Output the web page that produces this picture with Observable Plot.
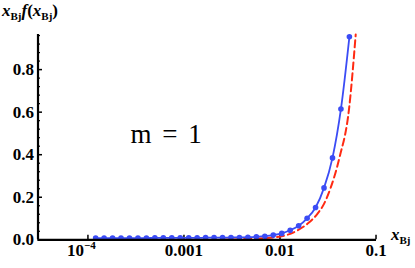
<!DOCTYPE html>
<html><head><meta charset="utf-8">
<script src="https://cdn.jsdelivr.net/npm/d3@7"></script>
<script src="https://cdn.jsdelivr.net/npm/@observablehq/plot@0.6"></script>
<style>body{margin:0;background:#fff;} svg{display:block}</style>
</head><body><div id="chart"></div>
<script>
// ---- data ----
const blueX = [1.203e-4,1.473e-4,1.805e-4,2.211e-4,2.708e-4,3.317e-4,4.063e-4,4.976e-4,6.095e-4,7.465e-4,
  9.144e-4,1.120e-3,1.372e-3,1.680e-3,2.058e-3,2.521e-3,3.088e-3,3.782e-3,4.632e-3,5.674e-3,
  6.950e-3,8.512e-3,1.043e-2,1.277e-2,1.564e-2,1.916e-2,2.347e-2,2.874e-2,3.521e-2,4.312e-2,5.282e-2];
const blueY = [0.008,0.008,0.008,0.008,0.008,0.008,0.008,0.009,0.009,0.009,
  0.009,0.009,0.009,0.010,0.010,0.010,0.011,0.011,0.012,0.014,
  0.017,0.022,0.030,0.045,0.066,0.101,0.152,0.244,0.385,0.615,0.954];
const redX = [0.0025,0.0035,0.00458,0.00681,0.01194,0.01518,0.01929,0.02452,0.02873,0.03374,0.04156,0.05232,0.06144];
const redY = [0.0,0.002,0.004,0.0075,0.0235,0.0437,0.0751,0.122,0.169,0.245,0.385,0.614,0.965];
const xTicks = [1e-4, 1e-3, 1e-2, 1e-1];
const xTickLabels = ["10", "0.001", "0.01", "0.1"];
const xTickExps = ["\u22124", "", "", ""];
const yTicks = [0, 0.2, 0.4, 0.6, 0.8];
const yTickLabels = ["0.0", "0.2", "0.4", "0.6", "0.8"];
const yMinor = [0.04,0.08,0.12,0.16,0.24,0.28,0.32,0.36,0.44,0.48,0.52,0.56,0.64,0.68,0.72,0.76,0.84,0.88,0.92,0.96];
const annotation = "m = 1";

// ---- layout ----
const W = 415, H = 268;
const mL = 37.5, mT = 34, mB = 28.7, mR = 39;
const frameW = W - mL - mR, frameH = H - mT - mB;
const xDomain = [Math.pow(10, -4.52), Math.pow(10, -0.995)];
const yDomain = [0, 0.965];
const serif = "Liberation Serif, Times New Roman, serif";
const BLUE = "#3b4cf5", RED = "#ff2a12";

const blue = blueX.map((x, i) => ({x, y: blueY[i]}));
const red = redX.map((x, i) => ({x, y: redY[i]}));
const xLab = xTicks.map((x, i) => ({x, t: xTickLabels[i], e: xTickExps[i]}));
const yLab = yTicks.map((y, i) => ({y, t: yTickLabels[i]}));

const chart = Plot.plot({
  width: W, height: H, marginLeft: mL, marginTop: mT, marginBottom: mB, marginRight: mR,
  x: {type: "log", domain: xDomain, axis: null},
  y: {domain: yDomain, axis: null},
  style: {fontFamily: serif, background: "#fff", overflow: "visible"},
  marks: [
    Plot.ruleY(yMinor, {y: d => d, stroke: "#000", strokeWidth: 1.2, insetRight: frameW - 2.5}),
    Plot.ruleY(yTicks, {y: d => d, stroke: "#000", strokeWidth: 1.5, insetRight: frameW - 4.5}),
    Plot.ruleX(xTicks, {x: d => d, stroke: "#000", strokeWidth: 1.5, insetTop: frameH - 4.5}),
    Plot.lineY(red, {x: "x", y: "y", stroke: RED, strokeWidth: 2, strokeDasharray: "7,4", curve: "monotone-x"}),
    Plot.lineY(blue, {x: "x", y: "y", stroke: BLUE, strokeWidth: 1.8, curve: "monotone-x"}),
    Plot.dot(blue, {x: "x", y: "y", r: 2.8, fill: BLUE, stroke: "none"}),
    Plot.ruleY([0], {stroke: "#000", strokeWidth: 2.2}),
    Plot.ruleX([xDomain[0]], {stroke: "#000", strokeWidth: 2.2}),
    Plot.text(yLab, {y: "y", text: "t", frameAnchor: "left", textAnchor: "end", dx: -4,
      fontFamily: serif, fontWeight: "bold", fontSize: 17, fill: "#000"}),
    Plot.text(xLab.filter(d => !d.e), {x: "x", text: "t", frameAnchor: "bottom", dy: 16,
      fontFamily: serif, fontWeight: "bold", fontSize: 17, fill: "#000"}),
    Plot.text(xLab.filter(d => d.e), {x: "x", text: "t", frameAnchor: "bottom", dy: 16, dx: -4, textAnchor: "end",
      fontFamily: serif, fontWeight: "bold", fontSize: 17, fill: "#000"}),
    Plot.text(xLab.filter(d => d.e), {x: "x", text: "e", frameAnchor: "bottom", dy: 9, dx: -4, textAnchor: "start",
      fontFamily: serif, fontWeight: "bold", fontSize: 11, fill: "#000"})
  ]
});
document.getElementById("chart").appendChild(chart);

const svg = d3.select(chart);
function richLabel(x, y, parts) {
  const t = svg.append("text").attr("x", x).attr("y", y).attr("text-anchor", "start")
    .style("font-family", serif).attr("font-weight", "bold").attr("fill", "#000");
  parts.forEach(p => {
    const s = t.append("tspan").text(p.s).attr("font-size", p.size);
    if (p.italic) s.attr("font-style", "italic");
    if (p.dy) s.attr("dy", p.dy);
  });
  return t;
}
// y axis title
richLabel(2, 16, [
  {s: "x", size: 17, italic: true},
  {s: "Bj", size: 11, dy: 4},
  {s: "f", size: 17, italic: true, dy: -4},
  {s: "(", size: 17},
  {s: "x", size: 17, italic: true},
  {s: "Bj", size: 11, dy: 4},
  {s: ")", size: 17, dy: -4}
]);
// x axis title
richLabel(391, 240, [
  {s: "x", size: 17, italic: true},
  {s: "Bj", size: 11, dy: 4}
]);
// annotation
svg.append("text").attr("x", 130.5).attr("y", 143).attr("text-anchor", "start")
  .style("font-family", serif).attr("font-size", 27).attr("fill", "#000")
  .style("white-space", "pre").style("word-spacing", "4px").text(annotation);
</script>
</body></html>
